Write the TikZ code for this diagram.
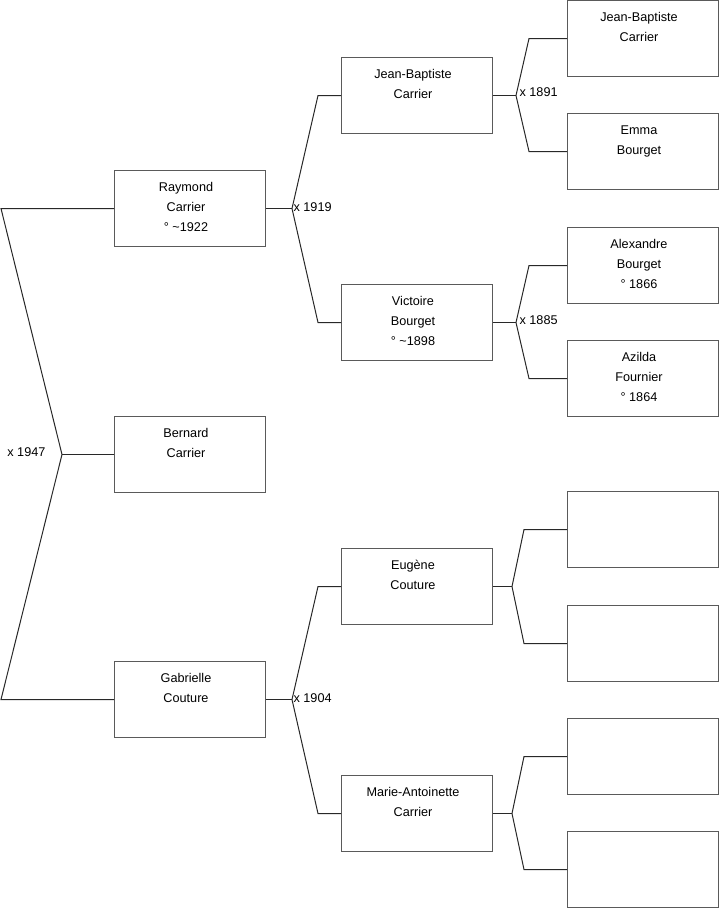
\documentclass[tikz,border=0pt]{standalone}
\usepackage{fontspec}
\setmainfont{Liberation Sans}
\usetikzlibrary{calc}
\definecolor{boxgray}{RGB}{90,90,90}
\definecolor{linegray}{RGB}{40,40,40}
\newcommand{\who}[1]{\parbox[c][57pt][t]{113.25pt}{\centering\rightskip=6pt plus 1fil\rule{0pt}{15.5pt}#1}}

\begin{document}
\begin{tikzpicture}[x=0.75pt, y=-0.75pt,
    person/.style={draw=boxgray, line width=0.75pt, inner sep=0pt, anchor=north west,
        minimum width=113.25pt, minimum height=57pt, font=\fontsize{9.5}{15}\selectfont},
    wed/.style={inner sep=1pt, font=\fontsize{9.5}{11}\selectfont},
    link/.style={draw=linegray, line width=0.75pt}]
    \useasboundingbox (0,0) rectangle (719,908);

    % Subject and parents
    \node[person] (rc) at (114,170) {\who{Raymond\\Carrier\\° \textasciitilde1922}};
    \node[person] (bc) at (114,416) {\who{Bernard\\Carrier}};
    \node[person] (gc) at (114,661) {\who{Gabrielle\\Couture}};

    % Grandparents
    \node[person] (jb) at (341,57) {\who{Jean-Baptiste\\Carrier}};
    \node[person] (vb) at (341,284) {\who{Victoire\\Bourget\\° \textasciitilde1898}};
    \node[person] (ec) at (341,548) {\who{Eugène\\Couture}};
    \node[person] (ma) at (341,775) {\who{Marie-Antoinette\\Carrier}};

    % Great-grandparents
    \node[person] (jbb) at (567,0) {\who{Jean-Baptiste\\Carrier}};
    \node[person] (emb) at (567,113) {\who{Emma\\Bourget}};
    \node[person] (alb) at (567,227) {\who{Alexandre\\Bourget\\° 1866}};
    \node[person] (azf) at (567,340) {\who{Azilda\\Fournier\\° 1864}};
    \node[person] (ec1) at (567,491) {\who{}};
    \node[person] (ec2) at (567,605) {\who{}};
    \node[person] (ma1) at (567,718) {\who{}};
    \node[person] (ma2) at (567,831) {\who{}};

    % Marriage points
    \coordinate (m0) at ($(bc.west)+(-52,0)$);
    \coordinate (m1) at ($(rc.east)+(26,0)$);
    \coordinate (m2) at ($(gc.east)+(26,0)$);
    \coordinate (m3) at ($(jb.east)+(23,0)$);
    \coordinate (m4) at ($(vb.east)+(23,0)$);
    \coordinate (m5) at ($(ec.east)+(19,0)$);
    \coordinate (m6) at ($(ma.east)+(19,0)$);

    % Brackets
    \draw[link] (rc.west) -- ++(-113,0) -- (m0) -- ($(gc.west)+(-113,0)$) -- (gc.west);
    \draw[link] (m0) -- (bc.west);

    \draw[link] (rc.east) -- (m1);
    \draw[link] (jb.west) -- ++(-23,0) -- (m1) -- ($(vb.west)+(-23,0)$) -- (vb.west);
    \draw[link] (gc.east) -- (m2);
    \draw[link] (ec.west) -- ++(-23,0) -- (m2) -- ($(ma.west)+(-23,0)$) -- (ma.west);

    \draw[link] (jb.east) -- (m3);
    \draw[link] (jbb.west) -- ++(-38,0) -- (m3) -- ($(emb.west)+(-38,0)$) -- (emb.west);
    \draw[link] (vb.east) -- (m4);
    \draw[link] (alb.west) -- ++(-38,0) -- (m4) -- ($(azf.west)+(-38,0)$) -- (azf.west);
    \draw[link] (ec.east) -- (m5);
    \draw[link] (ec1.west) -- ++(-43,0) -- (m5) -- ($(ec2.west)+(-43,0)$) -- (ec2.west);
    \draw[link] (ma.east) -- (m6);
    \draw[link] (ma1.west) -- ++(-43,0) -- (m6) -- ($(ma2.west)+(-43,0)$) -- (ma2.west);

    % Marriage years
    \node[wed, anchor=east] (w1947) at ($(m0)+(-15,-2)$) {x 1947};
    \node[wed, anchor=west] (w1919) at ($(m1)+(0,-1)$) {x 1919};
    \node[wed, anchor=west] (w1904) at ($(m2)+(0,-1)$) {x 1904};
    \node[wed, anchor=west] (w1891) at ($(m3)+(2,-3)$) {x 1891};
    \node[wed, anchor=west] (w1885) at ($(m4)+(2,-2)$) {x 1885};
\end{tikzpicture}
\end{document}
